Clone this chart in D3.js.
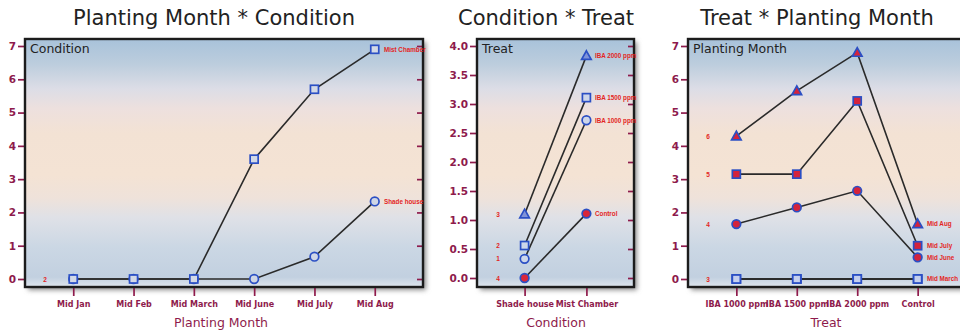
<!DOCTYPE html>
<html>
<head>
<meta charset="utf-8">
<script src="https://cdn.jsdelivr.net/npm/d3@7"></script>
<style>
  html, body { margin: 0; padding: 0; background: #fff; }
  svg { display: block; font-family: "DejaVu Sans", "Liberation Sans", Arial, sans-serif; }
</style>
</head>
<body>
<svg id="chart" width="960" height="331"></svg>
<script>
// Planting Month * Condition
const months = ["Mid Jan", "Mid Feb", "Mid March", "Mid June", "Mid July", "Mid Aug"];
const mistChamber = [0, 0, 0, 3.6, 5.7, 6.9];
const shadeHouse = [0, 0, 0, 0, 0.67, 2.33];

// Condition * Treat
const conditions = ["Shade house", "Mist Chamber"];
const iba2000ByCondition = [1.1, 3.83];
const iba1500ByCondition = [0.56, 3.11];
const iba1000ByCondition = [0.33, 2.72];
const controlByCondition = [0, 1.11];

// Treat * Planting Month
const treats = ["IBA 1000 ppm", "IBA 1500 ppm", "IBA 2000 ppm", "Control"];
const midAugByTreat = [4.29, 5.65, 6.8, 1.65];
const midJulyByTreat = [3.15, 3.15, 5.35, 1.0];
const midJuneByTreat = [1.65, 2.15, 2.65, 0.65];
const midMarchByTreat = [0, 0, 0, 0];
const midFebByTreat = [0, 0, 0, 0];
const midJanByTreat = [0, 0, 0, 0];

const ticks7 = [0, 1, 2, 3, 4, 5, 6, 7];
const ticks4 = [0, 0.5, 1, 1.5, 2, 2.5, 3, 3.5, 4];

const AXIS = "#8e1b4c";
const LABEL = "#e3261f";
const BLUE = "#2b4fc4";
const SANS = "'DejaVu Sans', 'Liberation Sans', Arial, sans-serif";
const NARROW = "'Liberation Sans', Arial, sans-serif";

const svg = d3.select("#chart");
const defs = svg.append("defs");

const grad = defs.append("linearGradient")
  .attr("id", "bg").attr("x1", 0).attr("y1", 0).attr("x2", 0).attr("y2", 1);
[
  [0.00, "#a8c2da"], [0.10, "#bccddd"], [0.20, "#dcdde6"], [0.28, "#ede0de"],
  [0.38, "#f3e2d4"], [0.55, "#f4e3d4"], [0.64, "#efe2da"], [0.72, "#dfe1e7"],
  [0.84, "#cbd7e4"], [0.96, "#c2d0e0"], [1.00, "#dfe6ee"]
].forEach(([o, c]) => grad.append("stop").attr("offset", o).attr("stop-color", c));

defs.append("filter").attr("id", "shadow")
  .attr("x", "-10%").attr("y", "-10%").attr("width", "130%").attr("height", "130%")
  .append("feGaussianBlur").attr("stdDeviation", 2.5);

function marker(g, shape, x, y, fill, stroke) {
  if (shape === "square") {
    g.append("rect").attr("x", x - 4).attr("y", y - 4).attr("width", 8).attr("height", 8)
      .attr("fill", fill).attr("stroke", stroke).attr("stroke-width", 1.7);
  } else if (shape === "circle") {
    g.append("circle").attr("cx", x).attr("cy", y).attr("r", 4.3)
      .attr("fill", fill).attr("stroke", stroke).attr("stroke-width", 1.7);
  } else {
    const p = d3.path();
    p.moveTo(x, y - 5); p.lineTo(x + 4.8, y + 3.6); p.lineTo(x - 4.8, y + 3.6); p.closePath();
    g.append("path").attr("d", p.toString())
      .attr("fill", fill).attr("stroke", stroke).attr("stroke-width", 1.7);
  }
}

function panel(cfg) {
  const { left, right, top, bottom, title, titleX, inner, cats, pad, yDomain, yTicks, yFmt,
          yRange, xTitle, xTitleX, series, leftLabelX, rightLabelX } = cfg;
  const g = svg.append("g");
  const x = d3.scalePoint().domain(cats).range([left, right]).padding(pad);
  const y = d3.scaleLinear().domain(yDomain).range(yRange);

  // shadow + plot background
  g.append("rect").attr("x", left + 3).attr("y", top + 3)
    .attr("width", right - left).attr("height", bottom - top)
    .attr("fill", "#8a8a8a").attr("filter", "url(#shadow)");
  g.append("rect").attr("x", left).attr("y", top)
    .attr("width", right - left).attr("height", bottom - top)
    .attr("fill", "url(#bg)");

  // left axis
  const yAxis = d3.axisLeft(y).tickValues(yTicks).tickSize(6).tickPadding(2).tickFormat(yFmt);
  const ya = g.append("g").attr("transform", `translate(${left - 1},0)`).call(yAxis);
  ya.select(".domain").remove();
  ya.selectAll("line").attr("stroke", AXIS).attr("stroke-width", 1.7);
  ya.selectAll("text").attr("fill", AXIS).attr("font-size", 10.5).attr("font-weight", "bold")
    .attr("font-family", SANS);

  // right ticks inside the frame
  const yr = g.append("g").attr("transform", `translate(${right},0)`)
    .call(d3.axisLeft(y).tickValues(yTicks).tickSize(6).tickFormat(""));
  yr.select(".domain").remove();
  yr.selectAll("line").attr("stroke", AXIS).attr("stroke-width", 1.7);

  // bottom axis
  const xa = g.append("g").attr("transform", `translate(0,${bottom + 1})`)
    .call(d3.axisBottom(x).tickSize(8).tickPadding(5));
  xa.select(".domain").remove();
  xa.selectAll("line").attr("stroke", AXIS).attr("stroke-width", 1.7);
  xa.selectAll("text").attr("fill", AXIS).attr("font-size", 8).attr("font-weight", "bold")
    .attr("font-family", SANS);

  // series lines and markers
  series.forEach(s => {
    const line = d3.line().x((d, i) => x(cats[i])).y(d => y(d));
    g.append("path").attr("d", line(s.values)).attr("fill", "none")
      .attr("stroke", "#2a2a2a").attr("stroke-width", 1.6);
  });
  series.forEach(s => {
    s.values.forEach((v, i) => marker(g, s.shape, x(cats[i]), y(v), s.fill, s.stroke || BLUE));
  });

  g.append("rect").attr("x", left).attr("y", top)
    .attr("width", right - left).attr("height", bottom - top)
    .attr("fill", "none").attr("stroke", "#1c1c1c").attr("stroke-width", 2.4);

  // series tags at both ends
  series.forEach(s => {
    if (s.leftTag) {
      g.append("text").attr("x", leftLabelX).attr("y", y(s.values[0]) + 2.5)
        .attr("fill", LABEL).attr("font-size", 6.5).attr("font-weight", "bold")
        .attr("font-family", NARROW).attr("text-anchor", "middle").text(s.leftTag);
    }
    if (s.name) {
      g.append("text").attr("x", rightLabelX).attr("y", y(s.values[s.values.length - 1]) + 2.3)
        .attr("fill", LABEL).attr("font-size", 6.3).attr("font-weight", "bold")
        .attr("font-family", NARROW).text(s.name);
    }
  });

  g.append("text").attr("x", left + 5).attr("y", top + 14)
    .attr("fill", "#222").attr("font-size", 12.5).text(inner);
  g.append("text").attr("x", titleX).attr("y", 25).attr("text-anchor", "middle")
    .attr("fill", "#222").attr("font-size", 21).text(title);
  g.append("text").attr("x", xTitleX).attr("y", 327).attr("text-anchor", "middle")
    .attr("fill", AXIS).attr("font-size", 12.5).text(xTitle);
}

panel({
  left: 25, right: 423, top: 39, bottom: 287,
  title: "Planting Month * Condition", titleX: 214, inner: "Condition",
  cats: months, pad: 0.8, yDomain: [0, 7], yRange: [279, 46], yTicks: ticks7, yFmt: d3.format("d"),
  xTitle: "Planting Month", xTitleX: 221, leftLabelX: 45, rightLabelX: 384,
  series: [
    { name: "Shade house", shape: "circle", fill: "#cfd6e6", values: shadeHouse },
    { name: "Mist Chamber", shape: "square", fill: "#d3d9e6", values: mistChamber, leftTag: "2" }
  ]
});

panel({
  left: 477, right: 634, top: 39, bottom: 287,
  title: "Condition * Treat", titleX: 546, inner: "Treat",
  cats: conditions, pad: 0.77, yDomain: [0, 4], yRange: [278, 46], yTicks: ticks4, yFmt: d3.format(".1f"),
  xTitle: "Condition", xTitleX: 556, leftLabelX: 498, rightLabelX: 595,
  series: [
    { name: "Control", shape: "circle", fill: "#d9263a", values: controlByCondition, leftTag: "4" },
    { name: "IBA 1000 ppm", shape: "circle", fill: "#cdd6ea", values: iba1000ByCondition, leftTag: "1" },
    { name: "IBA 1500 ppm", shape: "square", fill: "#cdd6ea", values: iba1500ByCondition, leftTag: "2" },
    { name: "IBA 2000 ppm", shape: "triangle", fill: "#7f93d8", values: iba2000ByCondition, leftTag: "3" }
  ]
});

// Mid Jan and Mid Feb run along zero underneath Mid March, which carries the tag
panel({
  left: 688, right: 966, top: 39, bottom: 287,
  title: "Treat * Planting Month", titleX: 817, inner: "Planting Month",
  cats: treats, pad: 0.8, yDomain: [0, 7], yRange: [279, 46], yTicks: ticks7, yFmt: d3.format("d"),
  xTitle: "Treat", xTitleX: 826, leftLabelX: 708, rightLabelX: 927,
  series: [
    { shape: "square", fill: "#c4cfee", values: midJanByTreat },
    { shape: "square", fill: "#c4cfee", values: midFebByTreat },
    { name: "Mid March", shape: "square", fill: "#c4cfee", values: midMarchByTreat, leftTag: "3" },
    { name: "Mid June", shape: "circle", fill: "#d4233c", values: midJuneByTreat, leftTag: "4" },
    { name: "Mid July", shape: "square", fill: "#d4233c", values: midJulyByTreat, leftTag: "5" },
    { name: "Mid Aug", shape: "triangle", fill: "#d4233c", values: midAugByTreat, leftTag: "6" }
  ]
});
</script>
</body>
</html>
